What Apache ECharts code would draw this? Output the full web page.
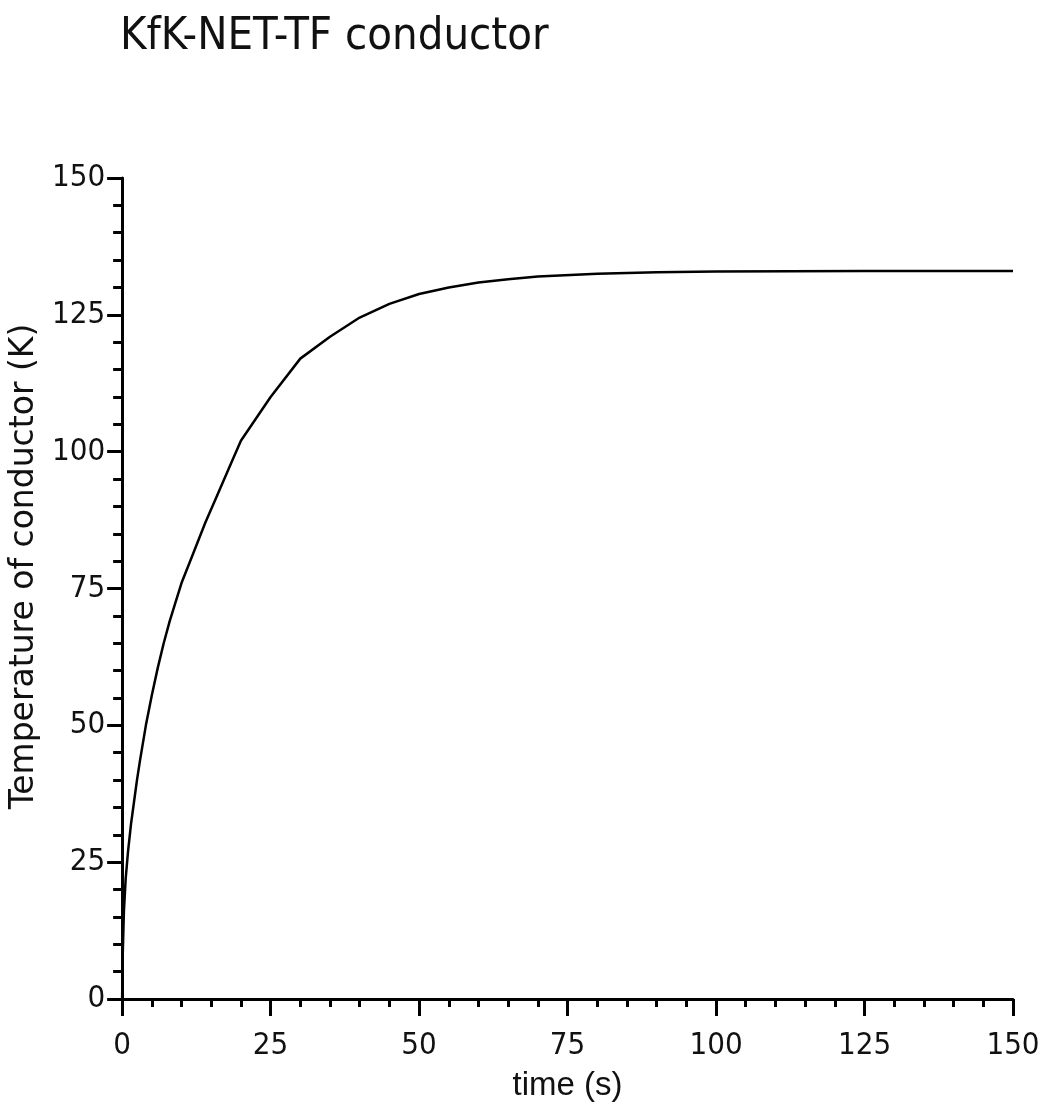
<!DOCTYPE html>
<html>
<head>
<meta charset="utf-8">
<script src="https://cdn.jsdelivr.net/npm/echarts@6/dist/echarts.min.js"></script>
<style>html,body{margin:0;padding:0;background:#fff}#c{width:1043px;height:1109px}</style>
</head>
<body>
<div id="c"></div>
<script>
const titleText = "KfK-NET-TF conductor";
const xName = "time (s)";
const yName = "Temperature of conductor (K)";
const timeS = [0, 0.1, 0.3, 0.6, 1, 1.5, 2, 2.5, 3, 4, 5, 6, 7, 8, 9, 10, 12, 14, 16, 18, 20, 25, 30, 35, 40, 45, 50, 55, 60, 65, 70, 80, 90, 100, 125, 150];
const tempK = [0, 8, 16, 22, 27, 32, 36, 40, 43.5, 50, 55.5, 60.5, 65, 69, 72.5, 76, 81.5, 87, 92, 97, 102, 110, 117, 121, 124.5, 127, 128.8, 130, 130.9, 131.5, 132, 132.5, 132.8, 132.9, 133, 133];
const xTicks = [0, 25, 50, 75, 100, 125, 150];
const yTicks = [0, 25, 50, 75, 100, 125, 150];

const chart = echarts.init(document.getElementById('c'), null, {renderer: 'canvas'});
const seriesData = timeS.map((t, i) => [t, tempK[i]]);
const narrow = "'Liberation Sans Narrow', 'DejaVu Sans Condensed', 'Liberation Sans', sans-serif";
chart.setOption({
  backgroundColor: '#fff',
  animation: false,
  title: {
    text: titleText, left: 120, top: 15, padding: 0,
    textStyle: {fontFamily: narrow, fontSize: 45, fontWeight: 'normal', color: '#111'}
  },
  grid: {left: 121, right: 30, top: 178, bottom: 110, containLabel: false},
  xAxis: {
    type: 'value', min: xTicks[0], max: xTicks[xTicks.length - 1], interval: 25,
    name: xName, nameLocation: 'middle', nameGap: 70,
    nameTextStyle: {fontFamily: "'Liberation Sans', sans-serif", fontSize: 33, color: '#111'},
    axisLine: {show: true, lineStyle: {color: '#000', width: 3}},
    axisTick: {show: true, inside: false, length: 17, lineStyle: {color: '#000', width: 3}},
    minorTick: {show: true, splitNumber: 5, length: 8, lineStyle: {color: '#000', width: 3}},
    axisLabel: {margin: 31, fontFamily: narrow, fontSize: 31, color: '#111',
      formatter: v => xTicks.includes(v) ? String(v) : ''},
    splitLine: {show: false}
  },
  yAxis: {
    type: 'value', min: yTicks[0], max: yTicks[yTicks.length - 1], interval: 25,
    name: yName, nameLocation: 'middle', nameGap: 75, nameRotate: 90,
    nameTextStyle: {fontFamily: "'DejaVu Sans', sans-serif", fontSize: 33, color: '#111', padding: [0, 0, 0, 44]},
    axisLine: {show: true, lineStyle: {color: '#000', width: 3}},
    axisTick: {show: true, inside: false, length: 15, lineStyle: {color: '#000', width: 3}},
    minorTick: {show: true, splitNumber: 5, length: 9, lineStyle: {color: '#000', width: 3}},
    axisLabel: {margin: 17, fontFamily: narrow, fontSize: 31, color: '#111',
      formatter: v => yTicks.includes(v) ? String(v) : ''},
    splitLine: {show: false}
  },
  series: [{
    type: 'line', data: seriesData, showSymbol: false, smooth: false,
    lineStyle: {color: '#000', width: 2.5}
  }]
});
</script>
</body>
</html>
